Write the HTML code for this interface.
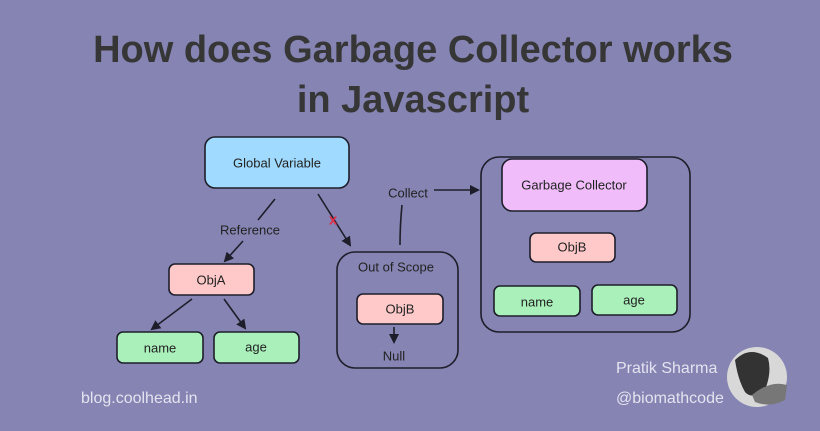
<!DOCTYPE html>
<html><head><meta charset="utf-8"><style>
html,body{margin:0;padding:0;background:#8584b3;}
svg{display:block}
.t{font-family:"Liberation Sans",sans-serif;fill:#222;font-size:13px;text-anchor:middle;dominant-baseline:central}
.h{font-family:"Liberation Sans",sans-serif;font-weight:bold;fill:#363636;font-size:38px;text-anchor:middle}
.f{font-family:"Liberation Sans",sans-serif;fill:#e4e4f0;font-size:16px;font-weight:300}
.b{stroke:#1e1e2a;stroke-width:1.6}
.l{stroke:#1e1e2a;stroke-width:1.6;fill:none}
</style></head><body>
<svg width="820" height="431" viewBox="0 0 820 431" xmlns="http://www.w3.org/2000/svg">
<defs><marker id="a" markerWidth="10" markerHeight="10" refX="8" refY="5" orient="auto" markerUnits="userSpaceOnUse"><path d="M0,0 L10,5 L0,10 z" fill="#1e1e2a"/></marker></defs>
<rect width="820" height="431" fill="#8584b3"/>
<text class="h" x="413" y="62">How does Garbage Collector works</text>
<text class="h" x="413" y="112">in Javascript</text>

<rect class="b" x="205" y="137" width="144" height="51" rx="10" fill="#a0dbff"/>
<text class="t" x="277" y="163">Global Variable</text>

<line class="l" x1="275" y1="199" x2="258" y2="220"/>
<text class="t" x="250" y="230">Reference</text>
<line class="l" x1="243" y1="241" x2="225" y2="261" marker-end="url(#a)"/>

<line class="l" x1="318" y1="194" x2="350" y2="245" marker-end="url(#a)"/>
<text x="333" y="220" font-family="Liberation Sans,sans-serif" font-size="15" font-weight="bold" fill="#e0304a" text-anchor="middle" dominant-baseline="central">x</text>

<rect class="b" x="169" y="264" width="85" height="31" rx="6" fill="#ffc9c9"/>
<text class="t" x="211" y="280">ObjA</text>
<line class="l" x1="192" y1="299" x2="152" y2="329" marker-end="url(#a)"/>
<line class="l" x1="224" y1="299" x2="245" y2="328" marker-end="url(#a)"/>
<rect class="b" x="117" y="332" width="86" height="31" rx="6" fill="#aaf0bb"/>
<text class="t" x="160" y="348">name</text>
<rect class="b" x="214" y="332" width="85" height="31" rx="6" fill="#aaf0bb"/>
<text class="t" x="256" y="347">age</text>

<rect class="l" x="337" y="252" width="121" height="116" rx="18"/>
<text class="t" x="396" y="267">Out of Scope</text>
<rect class="b" x="357" y="294" width="86" height="30" rx="6" fill="#ffc9c9"/>
<text class="t" x="400" y="309">ObjB</text>
<line class="l" x1="394" y1="327" x2="394" y2="342" marker-end="url(#a)"/>
<text class="t" x="394" y="356">Null</text>

<path class="l" d="M400,245 Q400,225 402,205"/>
<text class="t" x="408" y="193">Collect</text>
<line class="l" x1="434" y1="190" x2="478" y2="190" marker-end="url(#a)"/>

<rect class="l" x="481" y="157" width="209" height="175" rx="18"/>
<rect class="b" x="502" y="159" width="145" height="52" rx="10" fill="#f0bdfa"/>
<text class="t" x="574" y="185">Garbage Collector</text>
<rect class="b" x="530" y="233" width="85" height="29" rx="6" fill="#ffc9c9"/>
<text class="t" x="572" y="247">ObjB</text>
<rect class="b" x="494" y="286" width="86" height="30" rx="6" fill="#aaf0bb"/>
<text class="t" x="537" y="302">name</text>
<rect class="b" x="592" y="285" width="85" height="30" rx="6" fill="#aaf0bb"/>
<text class="t" x="634" y="300">age</text>

<text class="f" x="81" y="403">blog.coolhead.in</text>
<text class="f" x="616" y="373">Pratik Sharma</text>
<text class="f" x="616" y="403">@biomathcode</text>
<circle cx="757" cy="377" r="30" fill="#d8d8d8"/>
<path d="M735,360 Q750,345 768,358 Q772,372 765,390 Q752,400 745,392 Q738,380 735,360z" fill="#333"/>
<path d="M752,395 Q770,380 787,385 L785,400 Q770,408 755,402z" fill="#777"/>
</svg>
</body></html>
